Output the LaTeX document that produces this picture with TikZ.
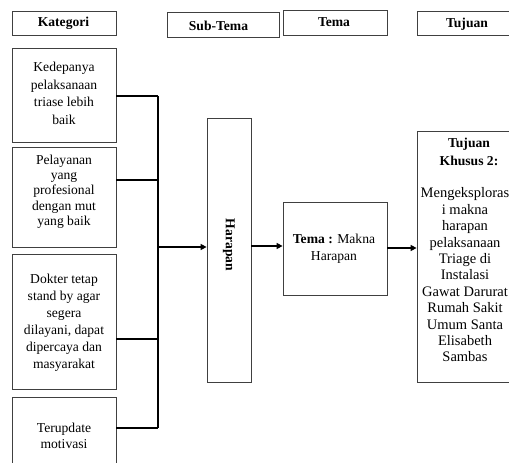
\documentclass[tikz,border=0pt]{standalone}
\usepackage{fontspec}
\setmainfont{Liberation Serif}
\usetikzlibrary{arrows.meta}
\begin{document}
\begin{tikzpicture}[x=1bp,y=-1bp,
  box/.style={draw=black!75, line width=0.8bp, inner sep=0pt, fill=none},
  txt/.style={align=center, inner sep=0pt, font=\fontsize{13.6bp}{#1}\selectfont},
  txt/.default={17bp},
  head/.style={inner sep=0pt, font=\fontsize{13.6bp}{17bp}\selectfont\bfseries},
  conn/.style={line width=1.6bp, black},
  arr/.style={conn, -{Triangle[length=6bp,width=6bp]}}]
\useasboundingbox (0,0) rectangle (509,463);
\clip (0,0) rectangle (509,463);
% header boxes
\node[box, minimum width=104bp, minimum height=24bp] (hk) at (64,23) {};
\node[head] (hkt) at (63.5,23.5) {Kategori};
\node[box, minimum width=112bp, minimum height=25bp] (hs) at (223,24.5) {};
\node[head] (hst) at (218.5,25.5) {Sub-Tema};
\node[box, minimum width=104bp, minimum height=25bp] (ht) at (335,22.5) {};
\node[head] (htt) at (334,22.5) {Tema};
\node[box, minimum width=94bp, minimum height=24bp] (hj) at (464,23) {};
\node[head] (hjt) at (467,24.5) {Tujuan};
% category boxes
\node[box, minimum width=104bp, minimum height=94bp] (b1) at (64,95) {};
\node[txt={17.7bp}] (b1t) at (64,93.5) {Kedepanya\\pelaksanaan\\triase lebih\\baik};
\node[box, minimum width=104bp, minimum height=100bp] (b2) at (64,197) {};
\node[txt={15.3bp}] (b2t) at (64,191.5) {Pelayanan\\yang\\profesional\\dengan mut\\yang baik};
\node[box, minimum width=104bp, minimum height=135bp] (b3) at (64,321.5) {};
\node[txt={17bp}] (b3t) at (64,322.5) {Dokter tetap\\stand by agar\\segera\\dilayani, dapat\\dipercaya dan\\masyarakat};
\node[box, minimum width=104bp, minimum height=80bp] (b4) at (64,437) {};
\node[txt={16bp}] (b4t) at (64,435.5) {Terupdate\\motivasi};
% sub-tema
\node[box, minimum width=44bp, minimum height=264bp] (h) at (229,250) {};
\node[head, rotate=-90] (hlab) at (229,245) {Harapan};
% tema
\node[box, minimum width=104bp, minimum height=93bp] (t) at (335,248.5) {};
\node[txt={17bp}] (tt) at (334,249) {\textbf{Tema :} Makna\\Harapan};
% tujuan
\node[box, minimum width=94bp, minimum height=251bp] (j) at (464,256.5) {};
\node[txt={17.7bp}, font=\fontsize{13.6bp}{17.7bp}\selectfont\bfseries] (jt) at (469,152) {Tujuan\\Khusus 2:};
\node[align=center, inner sep=0pt, font=\fontsize{14.5bp}{16.4bp}\selectfont] (jb) at (465,275) {Mengeksploras\\i makna\\harapan\\pelaksanaan\\Triage di\\Instalasi\\Gawat Darurat\\Rumah Sakit\\Umum Santa\\Elisabeth\\Sambas};
% connectors
\coordinate (bustop) at (158,96);
\coordinate (busbot) at (158,428);
\coordinate (busmid) at (158,247);
\draw[conn] (b1.east |- bustop) -- (bustop);
\draw[conn] (b2.east |- 0,180) -- (158,180);
\draw[conn] (b3.east |- 0,339) -- (158,339);
\draw[conn] (b4.east |- busbot) -- (busbot);
\draw[conn] (bustop) -- (busbot);
\draw[arr] (busmid) -- (h.west |- busmid);
\draw[arr] (h.east |- 0,246) -- (t.west |- 0,246);
\draw[arr] (t.east |- 0,248) -- (j.west |- 0,248);
\end{tikzpicture}
\end{document}
